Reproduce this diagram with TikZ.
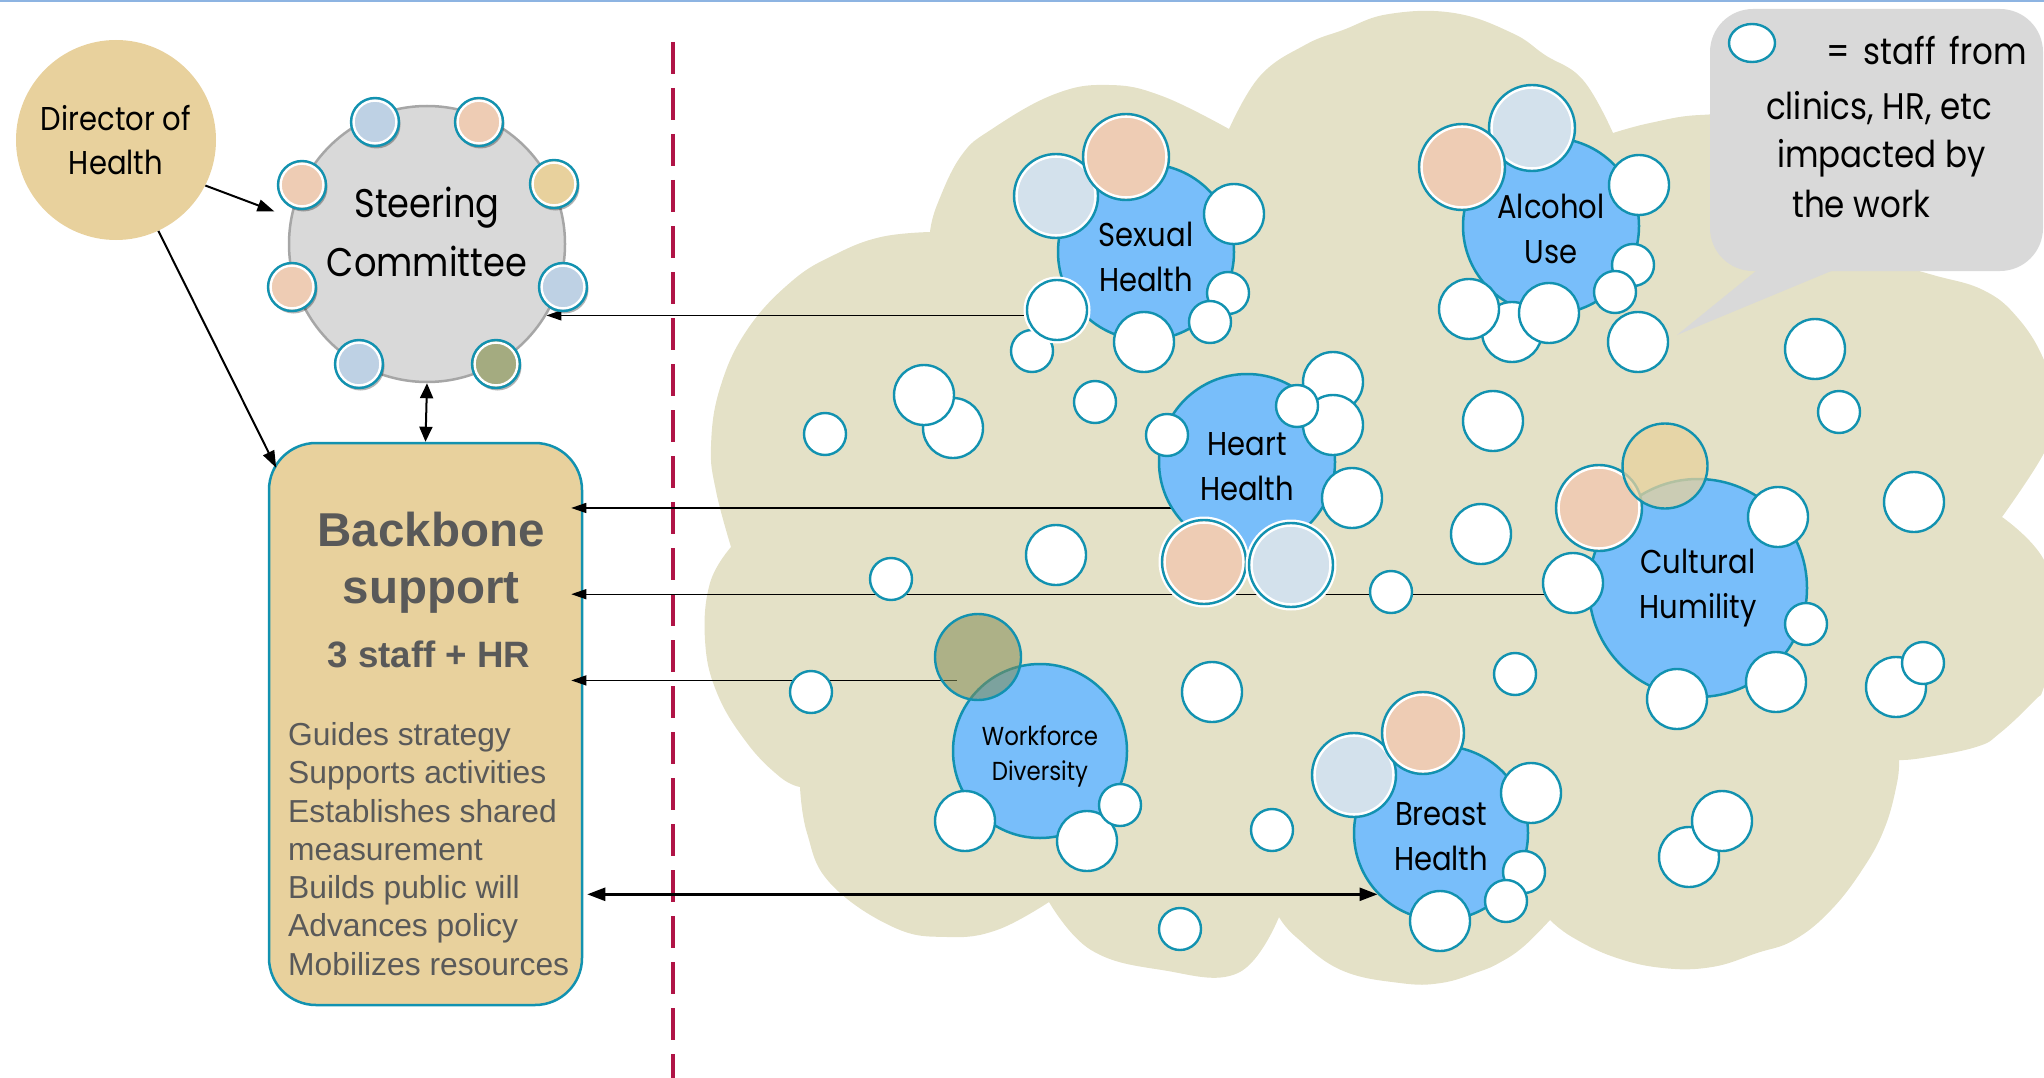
\documentclass[tikz,border=0pt]{standalone}
\usepackage{fontspec}
\setmainfont{Liberation Sans}
\newfontfamily\gothfont[FakeStretch=0.88]{Poppins}
\usetikzlibrary{arrows.meta,shapes.geometric,shadows}

\definecolor{tanfill}{RGB}{232,209,157}
\definecolor{cloudbg}{RGB}{228,225,199}
\definecolor{rimteal}{RGB}{18,146,176}
\definecolor{topicblue}{RGB}{120,190,250}
\definecolor{peach}{RGB}{238,204,180}
\definecolor{paleblue}{RGB}{211,225,236}
\definecolor{steelblue}{RGB}{190,209,228}
\definecolor{olive}{RGB}{164,171,128}
\definecolor{olivedark}{RGB}{128,139,84}
\definecolor{committeegray}{RGB}{217,217,217}
\definecolor{rimgray}{RGB}{166,166,166}
\definecolor{textgray}{RGB}{89,89,89}
\definecolor{dashred}{RGB}{176,20,70}
\definecolor{topline}{RGB}{141,180,226}

\pgfdeclarelayer{cloud}
\pgfdeclarelayer{links}
\pgfsetlayers{cloud,links,main}

\begin{document}
\begin{tikzpicture}[x=1pt,y=1pt,yscale=-1,
    every node/.style={inner sep=0pt},
    topic/.style={circle,draw=rimteal,fill=topicblue,line width=2.5pt,minimum size=2*#1pt},
    topiclbl/.style={align=center,font=\gothfont\fontsize{33}{45}\selectfont},
    staff/.style={circle,draw=rimteal,fill=white,line width=2.4pt,minimum size=2*#1pt},
    member/.style 2 args={circle,draw=rimteal,fill=#2,line width=2.4pt,minimum size=2*#1pt,
      path picture={\draw[white,line width=2.4pt] (path picture bounding box.center) circle[radius=#1pt-2.6pt];}},
    haloed/.style={preaction={draw=white,line width=7pt}},
    seat/.style={member={24}{#1},drop shadow={shadow xshift=1.5pt,shadow yshift=-2.5pt,fill=black,opacity=0.3}},
    calltext/.style={anchor=base west,font=\gothfont\fontsize{37}{50}\selectfont},
    leadarrow/.style={line width=2pt,-{Triangle[length=17pt,width=12pt]}},
    linkarrow/.style={line width=1.3pt,-{Triangle[length=15pt,width=10pt]}},
    widearrow/.style={line width=2.5pt,{Triangle[length=18pt,width=13pt]}-{Triangle[length=18pt,width=13pt]}}]
  \useasboundingbox (0,0) rectangle (2044,1078);

  \begin{pgfonlayer}{cloud}
    % cloud of work groups
    \fill[cloudbg]
      plot[smooth,tension=.7] coordinates {(731,547) (716,491) (711,446) (720,388) (747,330) (792,281) (836,254) (881,237) (930,232)}
      -- plot[smooth,tension=.7] coordinates {(930,232) (937,205) (961,156) (992,129) (1055,94) (1109,85) (1162,96) (1229,129)}
      -- plot[smooth,tension=.7] coordinates {(1229,129) (1260,76) (1305,45) (1343,30) (1389,14) (1454,13) (1512,33) (1545,55) (1583,80) (1613,133)}
      -- plot[smooth,tension=.7] coordinates {(1613,133) (1650,123) (1700,115) (1760,118) (1820,150) (1860,200) (1880,260)}
      -- plot[smooth,tension=.7] coordinates {(1880,260) (1933,275) (1983,290) (2017,317) (2044,360) (2058,410) (2044,453) (2002,517)}
      -- plot[smooth,tension=.7] coordinates {(2002,517) (2044,560) (2062,630) (2044,687) (2035,700) (2000,733) (1976,747) (1922,758) (1899,760)}
      -- plot[smooth,tension=.7] coordinates {(1899,760) (1897,783) (1885,827) (1864,867) (1831,910) (1794,940) (1757,953) (1712,967) (1663,968) (1614,957) (1572,937) (1550,920)}
      -- plot[smooth,tension=.7] coordinates {(1550,920) (1523,947) (1499,963) (1478,972) (1441,983) (1400,983) (1341,970) (1296,937) (1279,917)}
      -- plot[smooth,tension=.7] coordinates {(1279,917) (1238,973) (1162,970) (1091,950) (1049,902)}
      -- plot[smooth,tension=.7] coordinates {(1049,902) (997,930) (947,937) (893,927) (830,883) (807,833) (800,787)}
      -- plot[smooth,tension=.7] coordinates {(800,787) (780,777) (747,743) (717,693) (705,640) (710,583) (731,547)}
      -- cycle;
    % speech bubble
    \fill[committeegray,rounded corners=43pt] (1710,9) rectangle (2043,271);
    \fill[committeegray] (1767,262) -- (1853,262) -- (1677,335) -- cycle;
    \draw[topline,line width=2pt] (0,1) -- (2044,1);
    % backbone box sits under the arrow tips
    \node[draw=rimteal,fill=tanfill,line width=2.5pt,rounded corners=47pt,
      minimum width=313pt,minimum height=562pt] (backbone) at (425.5,724) {};
  \end{pgfonlayer}

  % left side
  \node[circle,fill=tanfill,minimum size=200pt,align=center,
    font=\gothfont\fontsize{33}{44}\selectfont] (director) at (116,140) {Director of\\Health};
  \node[circle,fill=committeegray,draw=rimgray,line width=2.5pt,minimum size=276pt] (steer) at (427,244) {};
  \node[align=center,font=\gothfont\fontsize{40}{59}\selectfont] (steerlbl) at (427,232) {Steering\\Committee};
  \node[seat=steelblue] (seat1) at (375,122) {};
  \node[seat=peach] (seat2) at (479,122) {};
  \node[seat=peach] (seat3) at (302,185) {};
  \node[seat=tanfill] (seat4) at (554,184) {};
  \node[seat=peach] (seat5) at (292,287) {};
  \node[seat=steelblue] (seat6) at (563,287) {};
  \node[seat=steelblue] (seat7) at (359,364) {};
  \node[seat=olive] (seat8) at (496,364) {};

  \node[align=center,text=textgray,font=\bfseries\fontsize{47.5}{57}\selectfont] (bbtitle) at (431,563) {Backbone\\support};
  \node[text=textgray,font=\bfseries\fontsize{36.7}{44}\selectfont] (bbstaff) at (429,654) {3 staff + HR};
  \node[anchor=west,align=left,text=textgray,font=\fontsize{31.8}{38.3}\selectfont] (bbroles) at (288,849)
    {Guides strategy\\Supports activities\\Establishes shared\\measurement\\Builds public will\\Advances policy\\Mobilizes resources};

  % work groups
  \node[topic=88] (sexual) at (1146,252) {};
  \node[topic=88] (alcohol) at (1551,226) {};
  \node[topic=88] (heart) at (1247,462) {};
  \node[topic=109] (cultural) at (1698,588) {};
  \node[topic=87] (workforce) at (1040,751) {};
  \node[topic=87] (breast) at (1441,833) {};
  \node[topiclbl] (sexlbl) at (1146,257) {Sexual\\Health};
  \node[topiclbl] (alclbl) at (1551,229) {Alcohol\\Use};
  \node[topiclbl] (heartlbl) at (1247,467) {Heart\\Health};
  \node[topiclbl] (culbl) at (1698,588) {Cultural\\Humility};
  \node[topiclbl,font=\gothfont\fontsize{26}{35}\selectfont] (wflbl) at (1040,756) {Workforce\\Diversity};
  \node[topiclbl] (breastlbl) at (1441,837) {Breast\\Health};

  % staff impacted by the work
  \foreach \cx/\cy/\r [count=\i] in {
      1234/214/30, 1228/293/21, 1210/322/21, 1144/342/30, 1032/351/21,
      1095/402/21, 953/428/30, 924/395/30, 825/434/21,
      1639/185/30, 1633/265/21, 1615/292/21, 1512/332/30, 1469/309/30, 1549/313/30, 1638/342/30,
      1815/349/30, 1839/412/21, 1493/421/30, 1481/534/30, 1914/502/30,
      1167/435/21, 1333/382/30, 1333/425/30, 1297/406/21, 1352/498/30, 1391/592/21,
      1056/555/30, 891/579/21, 811/692/21, 1212/692/30, 1515/674/21, 1272/830/21, 1180/929/21,
      1778/517/30, 1806/624/21, 1776/682/30, 1677/699/30,
      1896/687/30, 1923/663/21, 1689/857/30, 1722/821/30,
      965/821/30, 1087/841/30, 1120/805/21,
      1531/793/30, 1524/872/21, 1506/901/21, 1440/921/30}
    \node[staff=\r] (staff\i) at (\cx,\cy) {};
  \node[staff=30,haloed] (sxlink) at (1057,310) {};
  \node[staff=30] (culink) at (1573,583) {};

  % partners from other groups
  \node[member={42}{paleblue}] (sxblue) at (1056,196) {};
  \node[member={43}{peach}] (sxpeach) at (1126,157) {};
  \node[member={43}{paleblue}] (alblue) at (1532,128) {};
  \node[member={43}{peach}] (alpeach) at (1462,167) {};
  \node[member={42}{peach},haloed] (hhpeach) at (1204,562) {};
  \node[member={42}{paleblue},haloed] (hhblue) at (1291,565) {};
  \node[member={43}{peach}] (cupeach) at (1599,508) {};
  \node[circle,draw=rimteal,fill=tanfill,fill opacity=0.75,line width=2.4pt,minimum size=85pt] (cutan) at (1665,466) {};
  \node[member={42}{paleblue}] (bhblue) at (1354,775) {};
  \node[member={41}{peach}] (bhpeach) at (1423,733) {};
  \node[circle,draw=rimteal,fill=olivedark,fill opacity=0.55,line width=2.4pt,minimum size=86pt] (wfolive) at (978,657) {};

  % legend
  \node[ellipse,draw=rimteal,fill=white,line width=2.4pt,minimum width=46pt,minimum height=38pt] (legend) at (1752,43) {};
  \node[calltext] (callout1) at (1826,65) {= \hspace{5pt}staff \hspace{5pt}from};
  \node[calltext] (callout2) at (1766,120) {clinics, HR, etc};
  \node[calltext] (callout3) at (1777,168) {impacted by};
  \node[calltext] (callout4) at (1792,218) {the work};

  \begin{pgfonlayer}{links}
    \draw[dashred,line width=4pt,dash pattern=on 32pt off 14pt] (673,42) -- (673,1078);
    \draw[leadarrow,shorten >=17pt] (director.-27) -- (steer.169);
    \draw[leadarrow,shorten >=-19pt] (director.-65) -- (backbone.120);
    \draw[line width=2pt,{Triangle[length=15pt,width=13pt]}-{Triangle[length=15pt,width=13pt]}] (steer.south) -- (backbone.north);
    \draw[linkarrow] (sxlink.190) -- (sxlink.190 -| steer.-31);
    \draw[linkarrow,shorten >=-12pt] (heart.211) -- (heart.211 -| backbone.east);
    \draw[linkarrow,shorten >=-12pt] (culink.201) -- (culink.201 -| backbone.east);
    \draw[linkarrow,{Triangle[length=15pt,width=10pt]}-,shorten <=-12pt,shorten >=-16pt] (wfolive.212 -| backbone.east) -- (wfolive.212);
    \draw[widearrow,shorten <=4pt] (backbone.east |- breast.224) -- (breast.224);
  \end{pgfonlayer}
\end{tikzpicture}
\end{document}
